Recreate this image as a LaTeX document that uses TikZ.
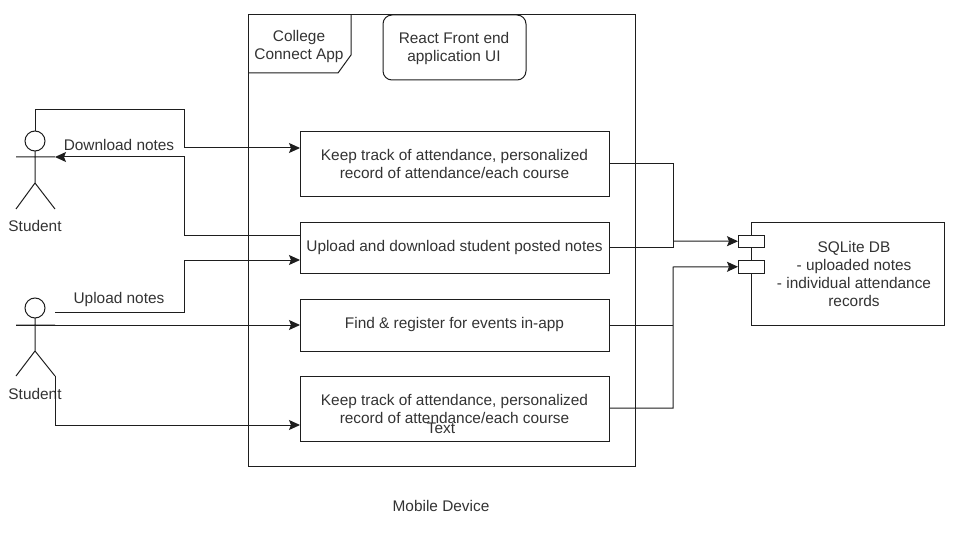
\documentclass[tikz,border=0pt]{standalone}
\usepackage{fontspec}
\setmainfont{Liberation Sans}
\usetikzlibrary{arrows.meta}
\definecolor{ink}{HTML}{1E1E1E}
\definecolor{txt}{HTML}{333333}
\tikzset{
  every node/.style={font=\fontsize{15.4}{18}\selectfont,text=txt,align=center,inner sep=0pt,outer sep=0pt},
  ln/.style={draw=ink,line width=1pt},
  arr/.style={ln,-{Stealth[length=11pt,width=10pt,inset=2pt]}},
  bx/.style={draw=ink,line width=1pt,minimum width=309pt,anchor=north west,fill=white},
  headc/.style={draw=ink,line width=1pt,circle,minimum size=20pt},
  port/.style={draw=ink,line width=1pt,fill=white,minimum width=26pt,minimum height=12.5pt,anchor=north west},
}
\begin{document}
\begin{tikzpicture}[x=1pt,y=-1pt]
\useasboundingbox (0,0) rectangle (955,556);
\fill[white] (0,0) rectangle (955,556);
% frame and its tab
\node[draw=ink,line width=1pt,minimum width=387pt,minimum height=451pt,anchor=north west] (frame) at (248,15) {};
\draw[ln] (351,15) -- (351,55) -- (338,73) -- (248,73);
\node (apptitle) at (299,47) {College\\Connect App};
\node[draw=ink,line width=1pt,rounded corners=9pt,minimum width=143pt,minimum height=65pt,anchor=north west] (ui) at (383,15) {};
\node (uitext) at (454,49) {React Front end\\application UI};
% boxes
\node[bx,minimum height=65pt] (b1) at (300,131.5) {Keep track of attendance, personalized\\record of attendance/each course};
\node[bx,minimum height=51pt] (b2) at (300,222) {Upload and download student posted notes};
\node[bx,minimum height=52pt] (b3) at (300,299) {Find \& register for events in-app};
\node[bx,minimum height=64.5pt] (b4) at (300,376.5) {Keep track of attendance, personalized\\record of attendance/each course};
\node (overtext) at (441,428.5) {Text};
\node (mobile) at (441,506) {Mobile Device};
% DB
\node[draw=ink,line width=1pt,minimum width=193pt,minimum height=103pt,anchor=north west] (db) at (751,222) {};
\node (dbtext) at (854,274) {SQLite DB\\- uploaded notes\\- individual attendance\\records};
\node[port] (p1) at (738,235) {};
\node[port] (p2) at (738,260.5) {};
% actor 1
\node[headc] (h1) at (35,141) {};
\coordinate (hip1) at (35,183);
\coordinate (la1) at (16,157);
\coordinate (ra1) at (55,157);
\coordinate (lf1) at (16,209);
\coordinate (rf1) at (55,209);
\draw[ln] (h1.south) -- (hip1) (la1) -- (ra1) (lf1) -- (hip1) -- (rf1);
\node (s1) at (35,226) {Student};
% actor 2
\node[headc] (h2) at (35,308) {};
\coordinate (hip2) at (35,351);
\coordinate (la2) at (16,325);
\coordinate (ra2) at (55,325);
\coordinate (lf2) at (16,376);
\coordinate (rf2) at (55,376);
\draw[ln] (h2.south) -- (hip2) (la2) -- (ra2) (lf2) -- (hip2) -- (rf2);
\node (s2) at (35,394) {Student};
% anchors on box edges
\coordinate (b1in) at (300,148);
\coordinate (b2out) at (300,235);
\coordinate (b2in) at (300,260);
\coordinate (b3in) at (300,325);
\coordinate (b4in) at (300,425);
\coordinate (up2) at (55,312);
\coordinate (b2e) at (609,247);
\coordinate (b4e) at (609,408);
% connectors
\draw[arr] (h1.north) |- (184,110) |- (b1in);
\draw[arr] (b2out) -| (184,157) -- (ra1);
\draw[arr] (up2) -| (184,260) -- (b2in);
\draw[arr] (la2) -- (b3in);
\draw[arr] (rf2) |- (b4in);
\node (dl) at (119,145) {Download notes};
\node (ul) at (119,300) {Upload notes};
\draw[ln] (b1.east) -| (673,247) -- (b2e);
\draw[arr] (673,241) -- (p1.west);
\draw[arr] (b4e) -| (673,267) -- (p2.west);
\draw[ln] (b3.east) -- (673,325);
\end{tikzpicture}
\end{document}
